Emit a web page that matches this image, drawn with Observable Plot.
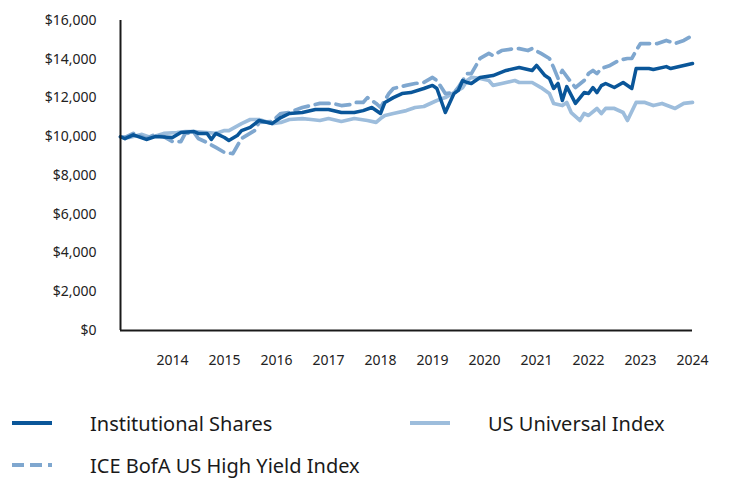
<!DOCTYPE html>
<html><head><meta charset="utf-8">
<script src="https://cdn.jsdelivr.net/npm/d3@7"></script>
<script src="https://cdn.jsdelivr.net/npm/@observablehq/plot@0.6"></script>
<style>
body{margin:0;background:#fff;font-family:"Noto Sans",sans-serif;}
#wrap{width:732px;}
#legend{position:relative;width:732px;height:100px;color:#1a1a1a;font-size:20px;}
.item{position:absolute;display:flex;align-items:center;}
.item svg{margin-right:38px;}
</style></head>
<body><div id="wrap"><div id="chart"></div><div id="legend"></div></div>
<script>
const seriesNames = ["Institutional Shares","US Universal Index","ICE BofA US High Yield Index"];
const seriesColors = ["#0a5699","#9dbddc","#7fa7cf"];
const yTicks = [0,2000,4000,6000,8000,10000,12000,14000,16000];
const xTickYears = [2014,2015,2016,2017,2018,2019,2020,2021,2022,2023,2024];

const instDates = ["2013-01","2013-02","2013-04","2013-07","2013-09","2014-01","2014-03","2014-06","2014-07","2014-09","2014-10","2014-11","2015-01","2015-02","2015-04","2015-05","2015-07","2015-09","2015-12","2016-02","2016-04","2016-07","2016-10","2017-01","2017-04","2017-07","2017-09","2017-11","2018-01","2018-02","2018-04","2018-06","2018-08","2018-11","2019-01","2019-02","2019-04","2019-06","2019-07","2019-08","2019-09","2019-10","2019-12","2020-03","2020-06","2020-09","2020-12","2021-01","2021-03","2021-04","2021-05","2021-06","2021-07","2021-08","2021-10","2021-12","2022-01","2022-02","2022-03","2022-04","2022-05","2022-07","2022-09","2022-11","2022-12","2023-03","2023-04","2023-07","2023-08","2024-01"];
const instValues = [10000,9900,10100,9860,10010,9960,10220,10270,10170,10170,9860,10170,9960,9810,10060,10320,10480,10840,10680,10990,11200,11250,11410,11410,11250,11250,11350,11510,11200,11770,12020,12230,12280,12490,12650,12490,11250,12230,12390,12900,12800,12750,13060,13160,13420,13570,13420,13680,13160,13010,12490,12750,11870,12590,11720,12280,12230,12540,12280,12640,12750,12540,12800,12490,13520,13520,13470,13620,13520,13780];

const univDates = ["2013-01","2013-03","2013-06","2013-08","2013-11","2014-02","2014-04","2014-06","2014-09","2014-11","2015-01","2015-02","2015-05","2015-07","2015-09","2015-12","2016-02","2016-04","2016-07","2016-09","2016-11","2017-01","2017-04","2017-06","2017-07","2017-10","2017-12","2018-01","2018-02","2018-04","2018-07","2018-09","2018-11","2019-01","2019-02","2019-04","2019-06","2019-08","2019-09","2019-10","2019-12","2020-02","2020-03","2020-05","2020-08","2020-09","2020-12","2021-02","2021-04","2021-05","2021-07","2021-08","2021-09","2021-11","2021-12","2022-01","2022-03","2022-04","2022-05","2022-07","2022-09","2022-10","2022-12","2023-02","2023-04","2023-06","2023-09","2023-11","2024-01"];
const univValues = [10000,9960,10120,9960,10170,10220,10270,10270,10220,10170,10320,10320,10680,10890,10890,10680,10740,10890,10940,10890,10840,10940,10790,10890,10940,10840,10740,10940,11100,11200,11350,11510,11560,11770,11870,12020,12280,12540,12900,13060,13010,12900,12650,12750,12900,12800,12800,12540,12230,11720,11610,11770,11250,10840,11200,11100,11460,11200,11460,11460,11250,10840,11770,11770,11610,11720,11460,11720,11770];

const hyDates = ["2013-01","2013-02","2013-04","2013-07","2013-09","2013-11","2014-01","2014-03","2014-04","2014-06","2014-07","2014-09","2014-11","2015-01","2015-03","2015-05","2015-08","2015-09","2015-12","2016-02","2016-04","2016-07","2016-11","2017-02","2017-04","2017-06","2017-07","2017-09","2017-10","2017-12","2018-01","2018-03","2018-04","2018-07","2018-09","2018-11","2019-01","2019-02","2019-04","2019-06","2019-07","2019-09","2019-10","2019-12","2020-02","2020-03","2020-05","2020-08","2020-09","2020-11","2020-12","2021-02","2021-04","2021-05","2021-06","2021-07","2021-09","2021-10","2021-12","2022-01","2022-02","2022-03","2022-04","2022-06","2022-08","2022-10","2022-11","2022-12","2023-01","2023-03","2023-05","2023-07","2023-09","2023-11","2024-01"];
const hyValues = [10000,9960,10170,9910,10120,10010,9750,9750,10170,10220,9910,9700,9450,9190,9130,9910,10320,10740,10790,11200,11250,11510,11720,11720,11610,11660,11770,11770,12020,11720,11510,12230,12490,12650,12750,12800,13060,12900,12230,12280,12540,13260,13260,14040,14300,14190,14450,14550,14550,14450,14550,14300,14040,13570,13010,13420,12800,12540,12900,13260,13420,13260,13520,13680,13940,14040,14040,14450,14810,14810,14810,14970,14810,14970,15230];

const parse = d3.utcParse("%Y-%m");
const rows = (dates, values, name) => dates.map((d, i) => ({date: parse(d), value: values[i], series: name}));
const inst = rows(instDates, instValues, seriesNames[0]);
const univ = rows(univDates, univValues, seriesNames[1]);
const hy = rows(hyDates, hyValues, seriesNames[2]);

const x0 = new Date(Date.UTC(2013,0,1)), x1 = new Date(Date.UTC(2024,0,1));
const chart = Plot.plot({
  width: 732, height: 380,
  marginLeft: 120, marginRight: 40, marginTop: 20, marginBottom: 50,
  style: {fontFamily: "'Noto Sans', sans-serif", fontSize: "14px", color: "#222", background: "#fff"},
  x: {type: "utc", domain: [x0, x1], ticks: xTickYears.map(y => new Date(Date.UTC(y,0,1))), tickFormat: d3.utcFormat("%Y"), tickSize: 0, tickPadding: 25, label: null},
  y: {domain: [0, 16000], ticks: yTicks, tickFormat: d => "$" + d3.format(",")(d), tickSize: 0, tickPadding: 24, label: null},
  marks: [
    Plot.line(univ, {x: "date", y: "value", stroke: seriesColors[1], strokeWidth: 3.7}),
    Plot.line(hy, {x: "date", y: "value", stroke: seriesColors[2], strokeWidth: 3.7, strokeDasharray: "14,7"}),
    Plot.line(inst, {x: "date", y: "value", stroke: seriesColors[0], strokeWidth: 3.5}),
    Plot.ruleY([0], {stroke: "#1a1a1a", strokeWidth: 2}),
    Plot.ruleX([x0], {y1: 0, y2: 16000, stroke: "#1a1a1a", strokeWidth: 2})
  ]
});
document.getElementById("chart").appendChild(chart);

const legendItems = [
  {name: seriesNames[0], color: seriesColors[0], dash: null, left: 12, top: 43},
  {name: seriesNames[1], color: seriesColors[1], dash: null, left: 410, top: 43},
  {name: seriesNames[2], color: seriesColors[2], dash: "12,6", left: 12, top: 85}
];
const legend = document.getElementById("legend");
for (const it of legendItems) {
  const div = document.createElement("div");
  div.className = "item";
  div.style.left = it.left + "px";
  div.style.top = (it.top - 15) + "px";
  div.style.height = "30px";
  div.innerHTML = `<svg width="40" height="6"><line x1="0" x2="40" y1="3" y2="3" stroke="${it.color}" stroke-width="4" ${it.dash ? `stroke-dasharray="${it.dash}"` : ""}/></svg><span>${it.name}</span>`;
  legend.appendChild(div);
}
</script></body></html>
